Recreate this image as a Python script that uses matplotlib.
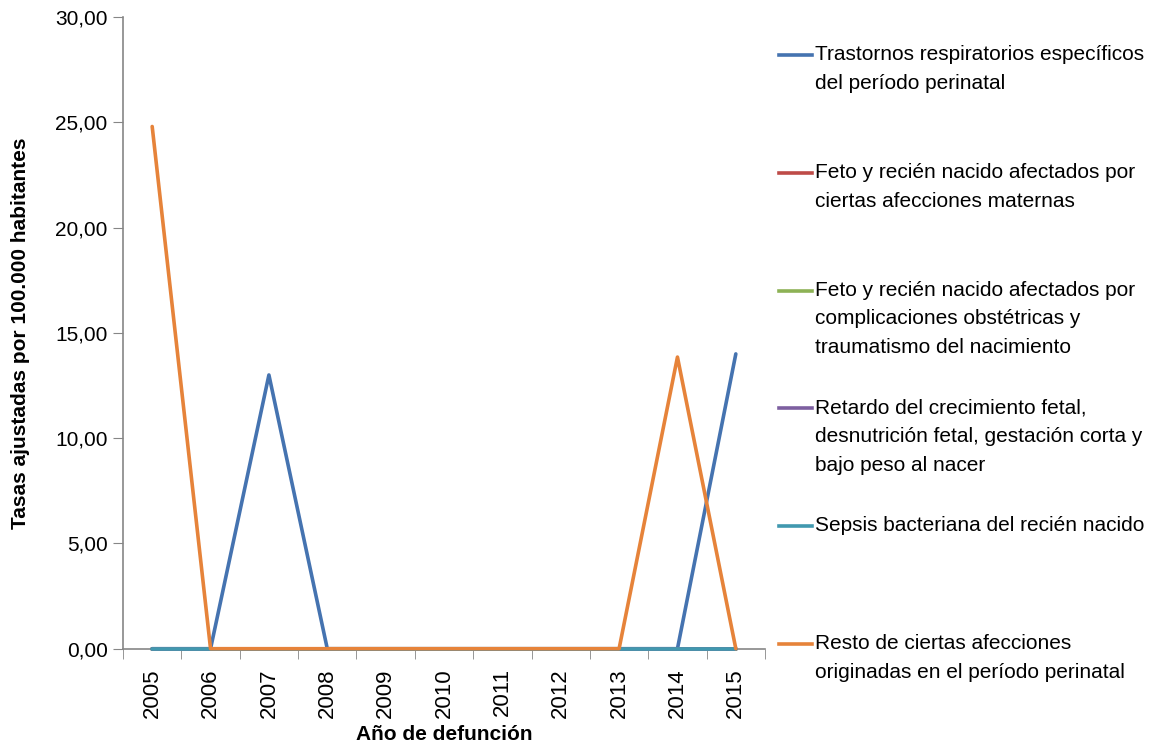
import numpy as np
import matplotlib.pyplot as plt
from matplotlib.lines import Line2D

plt.rcParams['font.family'] = ['Liberation Sans', 'DejaVu Sans']

years = ['2005', '2006', '2007', '2008', '2009', '2010', '2011', '2012', '2013', '2014', '2015']

trastornos_resp = [0, 0, 13.0, 0, 0, 0, 0, 0, 0, 0, 14.0]
afecc_maternas = [0, 0, 0, 0, 0, 0, 0, 0, 0, 0, 0]
complic_obst = [0, 0, 0, 0, 0, 0, 0, 0, 0, 0, 0]
retardo_crec = [0, 0, 0, 0, 0, 0, 0, 0, 0, 0, 0]
sepsis = [0, 0, 0, 0, 0, 0, 0, 0, 0, 0, 0]
resto = [24.8, 0, 0, 0, 0, 0, 0, 0, 0, 13.85, 0]

labels = [
    "Trastornos respiratorios específicos\ndel período perinatal",
    "Feto y recién nacido afectados por\nciertas afecciones maternas",
    "Feto y recién nacido afectados por\ncomplicaciones obstétricas y\ntraumatismo del nacimiento",
    "Retardo del crecimiento fetal,\ndesnutrición fetal, gestación corta y\nbajo peso al nacer",
    "Sepsis bacteriana del recién nacido",
    "Resto de ciertas afecciones\noriginadas en el período perinatal",
]
series = [trastornos_resp, afecc_maternas, complic_obst, retardo_crec, sepsis, resto]
colors = ['#4573B0', '#BE4B48', '#8DB255', '#7D5FA0', '#4198AF', '#E6833A']

W, H = 1154, 744
fs = 15
fig = plt.figure(figsize=(W / 100, H / 100), dpi=100)
ax = fig.add_axes([123 / W, 1 - 648.7 / H, (765 - 123) / W, (648.7 - 17) / H])

x = np.arange(len(years))
for vals, c in zip(series, colors):
    ax.plot(x, vals, color=c, lw=2.6, solid_capstyle='round', solid_joinstyle='round',
            zorder=3, clip_on=False)

ax.set_xlim(-0.5, len(years) - 0.5)
ax.set_ylim(0, 30)
ax.set_yticks(np.arange(0, 31, 5))
ax.set_yticklabels([f"{v:.2f}".replace('.', ',') for v in np.arange(0, 31, 5)], fontsize=fs)
ax.set_xticks(x)
ax.set_xticklabels(years, rotation=90, fontsize=fs + 1)
ax.set_xticks(np.arange(-0.5, len(years), 1), minor=True)
ax.tick_params(axis='x', which='major', length=0, pad=14)
ax.tick_params(axis='x', which='minor', length=7, color='#868686', direction='out')
ax.tick_params(axis='y', length=7, color='#868686', direction='out', pad=4)

for s in ['top', 'right']:
    ax.spines[s].set_visible(False)
for s in ['left', 'bottom']:
    ax.spines[s].set_color('#868686')
    ax.spines[s].set_linewidth(1.2)

ax.set_xlabel("Año de defunción", fontsize=fs, fontweight='bold', labelpad=5)
ax.set_ylabel("Tasas ajustadas por 100.000 habitantes", fontsize=fs, fontweight='bold', labelpad=18)

# legend drawn by hand, Excel style with evenly spread entries
y0, step = 55, 117.8
for i, (lab, c) in enumerate(zip(labels, colors)):
    yp = y0 + i * step
    fig.add_artist(Line2D([779 / W, 812 / W], [1 - yp / H, 1 - yp / H], color=c, lw=2.6,
                          transform=fig.transFigure))
    fig.text(815 / W, 1 - (yp - 10) / H, lab, fontsize=fs, va='top', ha='left', linespacing=1.65)

fig.savefig('out.png', dpi=100)
